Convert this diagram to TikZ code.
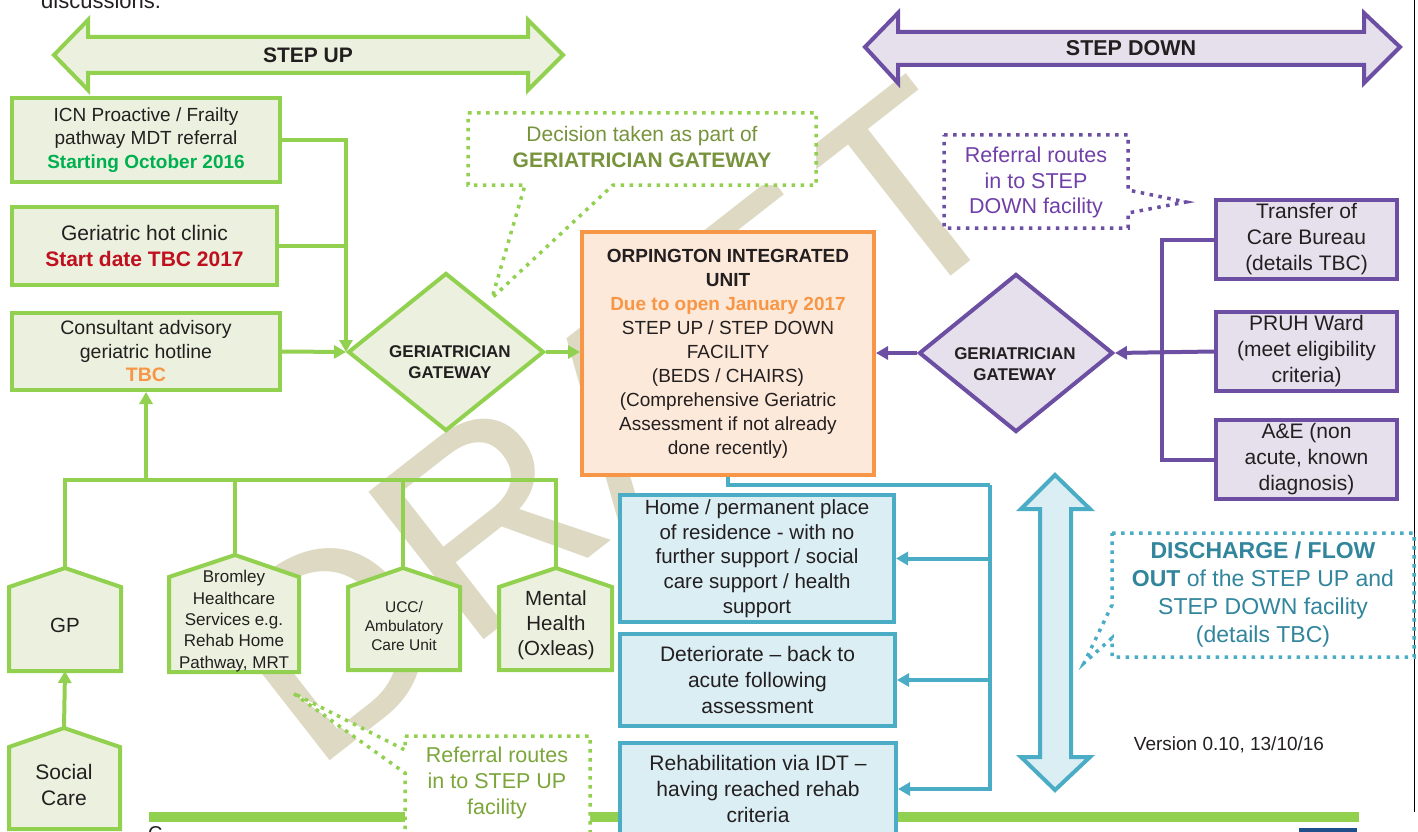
\documentclass[tikz,border=0pt]{standalone}
\usepackage{fontspec}
\setmainfont{Liberation Sans}
\usetikzlibrary{arrows.meta,shapes.geometric}

\definecolor{gline}{RGB}{146,208,80}
\definecolor{gfill}{RGB}{235,241,222}
\definecolor{gtext}{RGB}{119,147,60}
\definecolor{gtextlight}{RGB}{124,166,58}
\definecolor{gstart}{RGB}{0,176,80}
\definecolor{rtext}{RGB}{192,16,32}
\definecolor{oline}{RGB}{247,150,70}
\definecolor{ofill}{RGB}{253,233,217}
\definecolor{pline}{RGB}{108,78,163}
\definecolor{pfill}{RGB}{229,224,236}
\definecolor{ptext}{RGB}{112,64,168}
\definecolor{bline}{RGB}{75,172,198}
\definecolor{bfill}{RGB}{218,238,243}
\definecolor{btext}{RGB}{49,133,156}
\definecolor{ink}{RGB}{35,31,32}
\definecolor{wmark}{RGB}{221,217,195}
\definecolor{logo}{RGB}{31,80,140}
\newcommand\fsz[2]{\fontsize{#1}{#2}\selectfont}

\begin{document}
\begin{tikzpicture}[x=1pt,y=-1pt,line join=miter,
  arr/.style={-{Triangle[length=12pt,width=13pt]}},
  gshape/.style={draw=gline,fill=gfill,line width=4pt},
  pshape/.style={draw=pline,fill=pfill,line width=4pt},
  bshape/.style={draw=bline,fill=bfill,line width=4pt},
  gbox/.style={gshape,inner sep=0pt,align=center,text=ink},
  obox/.style={draw=oline,fill=ofill,line width=4pt,inner sep=0pt,align=center,text=ink},
  pbox/.style={pshape,inner sep=0pt,align=center,text=ink},
  bbox/.style={bshape,inner sep=0pt,align=center,text=ink},
  glink/.style={draw=gline,line width=4pt},
  plink/.style={draw=pline,line width=4pt},
  blink/.style={draw=bline,line width=4pt},
  gdot/.style={draw=gline,fill=white,line width=3.5pt,dash pattern=on 3.5pt off 5.5pt},
  pdot/.style={draw=pline,fill=white,line width=3.5pt,dash pattern=on 3.5pt off 5.5pt},
  bdot/.style={draw=bline,fill=white,line width=3.5pt,dash pattern=on 3.5pt off 5.5pt},
  txt/.style={inner sep=0pt,align=center,text=ink},
]
\useasboundingbox (0,0) rectangle (1418,832);

% watermark
\node[anchor=base west,inner sep=0pt,rotate=38,text=wmark,font=\fsz{272}{272}] (wm) at (312,775) {DRAFT};

% cut-off text at the page edges
\node[txt,anchor=base west,font=\fsz{22}{26}] (disc) at (41,9) {discussions.};
\node[txt,anchor=north west,font=\fsz{20}{24}] (cmark) at (148,826) {C};
\fill[logo] (1299,828) rectangle (1357,840);
\draw[line width=1.2pt] (1414.5,0) -- (1414.5,812);

% STEP UP / STEP DOWN banners
\draw[gshape] (54,55) -- (88,20) -- (88,37) -- (528,37) -- (528,20) -- (563,55)
  -- (528,90) -- (528,73) -- (88,73) -- (88,90) -- cycle;
\node[txt,font=\bfseries\fsz{21}{24}] (stepup) at (308,55) {STEP UP};
\draw[pshape] (865,47) -- (898,13) -- (898,32) -- (1364,32) -- (1364,13) -- (1400,47)
  -- (1364,83) -- (1364,65) -- (898,65) -- (898,83) -- cycle;
\node[txt,font=\bfseries\fsz{21.5}{24}] (stepdown) at (1131,48) {STEP DOWN};

% bottom rule
\draw[gline,line width=10pt] (149,816.5) -- (1359,816.5);

% left referral sources
\node[gbox,minimum width=268pt,minimum height=84pt,font=\fsz{19}{23.3}] (icn) at (146,140)
  {ICN Proactive / Frailty\\pathway MDT referral\\\textcolor{gstart}{\bfseries Starting October 2016}};
\node[gbox,minimum width=265pt,minimum height=78pt,font=\fsz{21}{26.5}] (hot) at (144.5,246)
  {Geriatric hot clinic\\\textcolor{rtext}{\bfseries Start date TBC 2017}};
\node[gbox,minimum width=268pt,minimum height=77pt,font=\fsz{19.5}{23.5}] (cons) at (146,351.5)
  {Consultant advisory\\geriatric hotline\\\textcolor{oline}{\bfseries TBC}};

% green gateway
\node[gshape,shape=diamond,minimum width=196pt,minimum height=158pt,inner sep=0pt] (gg) at (446,352) {};
\node[txt,font=\bfseries\fsz{17}{21.5}] (ggtext) at (450,362) {GERIATRICIAN\\GATEWAY};

% central unit
\node[obox,minimum width=292pt,minimum height=243pt,font=\fsz{19}{24}] (unit) at (728,353.5)
  {{\bfseries ORPINGTON INTEGRATED}\\{\bfseries UNIT}\\\textcolor{oline}{\bfseries Due to open January 2017}\\
   STEP UP / STEP DOWN\\FACILITY\\(BEDS / CHAIRS)\\(Comprehensive Geriatric\\Assessment if not already\\done recently)};

% purple gateway
\node[pshape,shape=diamond,minimum width=194pt,minimum height=158pt,inner sep=0pt] (pg) at (1016,353) {};
\node[txt,font=\bfseries\fsz{17}{21.5}] (pgtext) at (1015,364) {GERIATRICIAN\\GATEWAY};

% step down sources
\node[pbox,minimum width=181pt,minimum height=79pt,font=\fsz{21}{26}] (tcb) at (1306.5,239.5)
  {Transfer of\\Care Bureau\\(details TBC)};
\node[pbox,minimum width=181pt,minimum height=79pt,font=\fsz{21}{26}] (pruh) at (1306.5,351.5)
  {PRUH Ward\\(meet eligibility\\criteria)};
\node[pbox,minimum width=181pt,minimum height=79pt,font=\fsz{21}{26}] (ae) at (1306.5,459.5)
  {A\&E (non\\acute, known\\diagnosis)};

% discharge destinations
\node[bbox,minimum width=274pt,minimum height=127pt,font=\fsz{20.5}{24.6}] (home) at (757,558.5)
  {Home / permanent place\\of residence - with no\\further support / social\\care support / health\\support};
\node[bbox,minimum width=275pt,minimum height=92pt,font=\fsz{21}{26}] (det) at (757.5,680)
  {Deteriorate -- back to\\acute following\\assessment};
\node[bbox,minimum width=276pt,minimum height=92pt,font=\fsz{21}{26}] (rehab) at (758,789)
  {Rehabilitation via IDT --\\having reached rehab\\criteria};

% discharge flow arrow
\draw[bshape] (1055,475) -- (1090,509) -- (1071,509) -- (1071,757) -- (1090,757) -- (1055,790)
  -- (1021,757) -- (1040,757) -- (1040,509) -- (1021,509) -- cycle;

% community services (house shapes)
\draw[gshape] (9,671) -- (9,587) -- (65,568) -- (121,587) -- (121,671) -- cycle;
\draw[gshape] (9,829) -- (9,747) -- (64,728) -- (120,747) -- (120,829) -- cycle;
\draw[gshape] (169,672) -- (169,577) -- (235,555) -- (299,577) -- (299,672) -- cycle;
\draw[gshape] (348,670) -- (348,587) -- (403,568) -- (460,587) -- (460,670) -- cycle;
\draw[gshape] (499,670) -- (499,587) -- (556,568) -- (612,587) -- (612,670) -- cycle;
\coordinate (gpTop) at (65,568);
\coordinate (gpBot) at (65,671);
\coordinate (scTop) at (64,728);
\coordinate (bromTop) at (235,555);
\coordinate (uccTop) at (403,568);
\coordinate (mhTop) at (556,568);
\node[txt,font=\fsz{20.5}{25}] (gp) at (65,625) {GP};
\node[txt,font=\fsz{21}{26}] (sc) at (64,785) {Social\\Care};
\node[txt,font=\fsz{17}{21.3}] (brom) at (234,621) {Bromley\\Healthcare\\Services e.g.\\Rehab Home\\Pathway, MRT};
\node[txt,font=\fsz{15.5}{19}] (ucc) at (404,626) {UCC/\\Ambulatory\\Care Unit};
\node[txt,font=\fsz{20.5}{25}] (mh) at (556,625) {Mental\\Health\\(Oxleas)};

% callouts
\draw[gdot] (468,113) -- (816,113) -- (816,185) -- (613,185) -- (492,298) -- (525,185) -- (468,185) -- cycle;
\node[txt,text=gtext,font=\fsz{21}{26}] (dec) at (642,147) {Decision taken as part of\\\textbf{GERIATRICIAN GATEWAY}};
\draw[pdot] (944,135) -- (1128,135) -- (1128,190) -- (1186,202) -- (1128,213) -- (1128,228) -- (944,228) -- cycle;
\node[txt,text=ptext,font=\fsz{21.5}{25.5}] (pref) at (1036,182.5) {Referral routes\\in to STEP\\DOWN facility};
\draw[bdot] (1112,533) -- (1414,533) -- (1414,657) -- (1112,657) -- (1112,638) -- (1084,663) -- (1112,605) -- cycle;
\node[txt,text=btext,font=\fsz{23}{28}] (dis) at (1263,595)
  {\textbf{DISCHARGE / FLOW}\\\textbf{OUT} of the STEP UP and\\STEP DOWN facility\\(details TBC)};
\draw[gdot] (405,736) -- (590,736) -- (590,845) -- (405,845) -- (405,773) -- (293,693) -- (405,750) -- cycle;
\node[txt,text=gtextlight,font=\fsz{21.5}{26}] (uref) at (497,783) {Referral routes\\in to STEP UP\\facility};

\node[txt,font=\fsz{19}{23}] (ver) at (1229,745) {Version 0.10, 13/10/16};

% step up connectors
\draw[glink,arr] (icn.east) -| (gg.west);
\draw[glink] (hot.east) -- (hot.east -| gg.west);
\draw[glink,arr] (cons.east) -- (gg.west);
\draw[glink,arr] (gg.east) -- (gg.east -| unit.west);
\coordinate (tj) at (146,480);
\draw[glink] (gpTop) |- (mhTop |- tj) -- (mhTop);
\draw[glink] (bromTop) -- (bromTop |- tj);
\draw[glink] (uccTop) -- (uccTop |- tj);
\draw[glink,arr] (tj) -- (cons.south -| tj);
\draw[glink,arr] (scTop) -- (gpBot);

% step down connectors
\draw[plink] (tcb.west) -- ++(-52,0) |- (ae.west);
\draw[plink,arr] (pruh.west) -- (pg.east);
\draw[plink,arr] (pg.west) -- (pg.west -| unit.east);

% discharge connectors
\coordinate (bt) at (990,485);
\draw[blink] (unit.south) |- (bt);
\draw[blink,arr] (bt) |- (rehab.east);
\draw[blink,arr] (home.east -| bt) -- (home.east);
\draw[blink,arr] (det.east -| bt) -- (det.east);
\end{tikzpicture}
\end{document}
